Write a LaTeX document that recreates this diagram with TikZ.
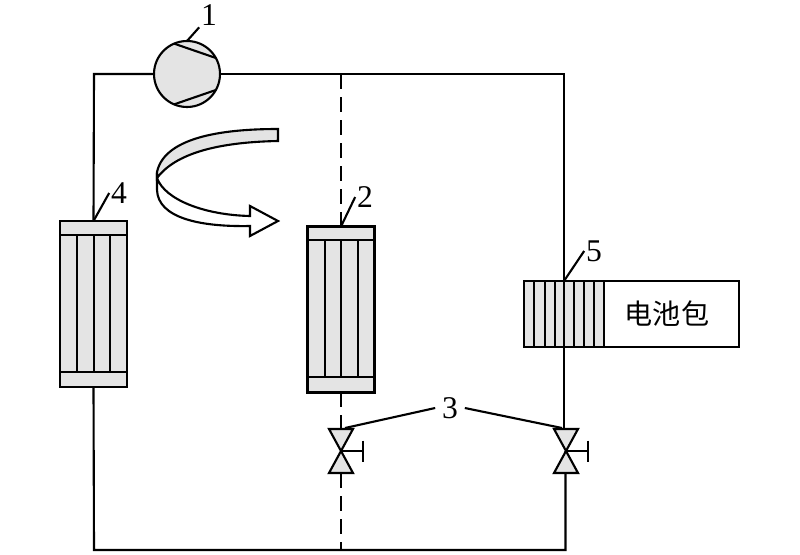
\documentclass[tikz,border=0pt]{standalone}
\usepackage{fontspec}
\setmainfont{Liberation Serif}
\newfontfamily\cjk{Noto Sans CJK SC}
\definecolor{partgray}{HTML}{E4E4E4}
\begin{document}
\begin{tikzpicture}[
    x=0.02cm,
    y=-0.02cm,
    line width=1.2pt,
    bodybox/.style={
        draw,
        rectangle,
        inner sep=0pt,
        outer sep=0pt,
        fill=partgray
    },
    coolbox/.style={
        bodybox,
        minimum width=1.34cm,
        minimum height=3.32cm
    },
    numlabel/.style={
        inner sep=0.5pt,
        font=\fontsize{18}{18}\selectfont
    },
    pipe/.style={line width=1.2pt},
    dashpipe/.style={pipe, dash pattern=on 15*0.02cm off 8*0.02cm}
]
\useasboundingbox (0,0) rectangle (800,554);

% corners of the loop
\coordinate (tl) at (94,74);
\coordinate (tm) at (341,74);
\coordinate (tr) at (564,74);
\coordinate (bl) at (94,550);
\coordinate (bm) at (341,550);
\coordinate (br) at (565.5,550);

\node[bodybox, circle, minimum size=1.32cm] (comp) at (187,74) {};
\node[coolbox] (cond) at (93.5,304) {};
\node[coolbox] (evap) at (341,309.5) {};
\node[draw, rectangle, inner sep=0pt, outer sep=0pt, minimum width=4.3cm, minimum height=1.32cm] (pack) at (631.5,314) {};
\node[bodybox, minimum width=1.6cm, minimum height=1.32cm] (chiller) at (564,314) {};
\node[font=\cjk\fontsize{16}{16}\selectfont, inner sep=0pt] (packtext) at (667,314) {电池包};

\coordinate (valveL) at (341,451);
\coordinate (valveR) at (566,451);

% loop
\draw[pipe] (comp.west) -- (tl) -- (cond.north);
\draw[pipe] (cond.south) -- (bl) -- (bm) -- (br) -- (br |- valveR);
\draw[pipe] (comp.east) -- (tr) -- (564,429);
\draw[dashpipe] (tm) -- (evap.north);
\draw[dashpipe] (evap.south) -- (341,429);
\draw[dashpipe] (341,473) -- (bm);

% compressor
\draw (comp.113) -- (comp.29);
\draw (comp.247) -- (comp.331);

% tubes
\draw (60,235) -- (127,235);
\draw (60,372) -- (127,372);
\foreach \x in {77,94,110}
    \draw (\x,235) -- (\x,372);
\draw (308,240) -- (374,240);
\draw (308,377) -- (374,377);
\foreach \x in {325,341,358}
    \draw (\x,240) -- (\x,377);
\foreach \x in {534,545,555,564,574,584,594}
    \draw (\x,281) -- (\x,347);

% valves
\foreach \v in {valveL,valveR} {
    \draw[fill=partgray] (\v) -- ++(-12,-22) -- ++(24,0) -- cycle;
    \draw[fill=partgray] (\v) -- ++(-12,22) -- ++(24,0) -- cycle;
    \draw (\v) -- ++(22,0) ++(0,-10.5) -- ++(0,21);
}

% air arrow
\draw[fill=partgray] (278,129) .. controls (230,129) and (165,135) .. (157,172)
    -- (157,178) .. controls (178,150) and (228,142) .. (278,141) -- cycle;
\draw[fill=white] (157,178) .. controls (165,200) and (205,215) .. (250,216)
    -- (250,206) -- (278,221) -- (250,236) -- (250,226)
    .. controls (200,227) and (158,218) .. (157,190) -- cycle;

% numbers
\node[numlabel] (n1) at (209,15) {1};
\node[numlabel] (n2) at (365,197) {2};
\node[numlabel] (n3) at (450,408) {3};
\node[numlabel] (n4) at (119,193) {4};
\node[numlabel] (n5) at (594,251) {5};

\coordinate (valveLtop) at (345,428);
\coordinate (valveRtop) at (562,428);
\draw (comp.north) -- (n1.south west);
\draw (evap.north) -- (n2.west);
\draw (cond.north) -- (n4.west);
\draw (pack.north -| chiller) -- (n5.west);
\draw (valveLtop) -- ([xshift=-0.1cm]n3.west);
\draw (valveRtop) -- ([xshift=0.1cm]n3.east);

\end{tikzpicture}
\end{document}
